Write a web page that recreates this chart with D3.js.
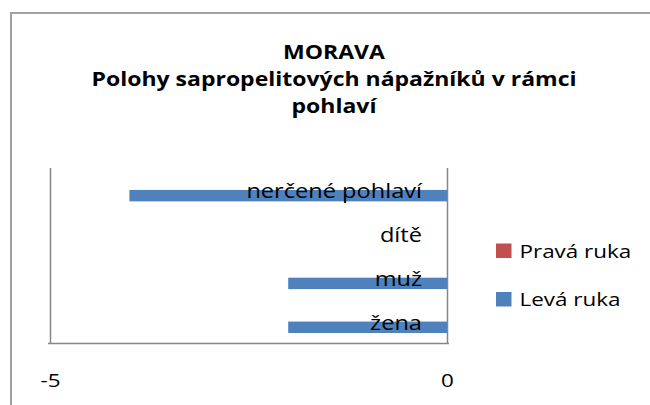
<!DOCTYPE html>
<head>
  <meta charset="utf-8">
  <script src="https://d3js.org/d3.v7.min.js"></script>
  <style>
    body { margin: 0; background: #fff; }
    text { font-family: "Open Sans", sans-serif; fill: #000; }
    text.title { font-size: 19.5px; font-weight: 700; }
    text.catLabel { font-size: 20px; }
    text.legendText { font-size: 19px; }
    .xAxis .tick text { font-size: 19px; fill: #000; }
    .xAxis .tick line { stroke: #868686; stroke-width: 1.5; }
    .xAxis path.domain { display: none; }
  </style>
</head>
<body>
  <script>
    // data
    var categories = ['nerčené pohlaví', 'dítě', 'muž', 'žena'];
    var series = ['Pravá ruka', 'Levá ruka'];
    var pravaRuka = [0, 0, 0, 0];
    var levaRuka = [-4, 0, -2, -2];
    var xTicks = [-5, 0];
    var colours = { 'Pravá ruka': '#C0504D', 'Levá ruka': '#4F81BD' };
    var titleLines = ['MORAVA', 'Polohy sapropelitových nápažníků v rámci', 'pohlaví'];

    var width = 650, height = 405;
    var margin = { top: 168, left: 50, right: 203, bottom: 61.5 };
    // the original picture is stretched sideways, so the text is too
    var sx = 1.18;

    var svg = d3.select('body').append('svg')
      .attr('width', width)
      .attr('height', height);

    svg.append('rect')
      .attr('width', width).attr('height', height)
      .style('fill', '#fff');

    // chart area border (cut by the page edge on the right and bottom)
    svg.append('rect')
      .attr('x', 11).attr('y', 13)
      .attr('width', 700).attr('height', 500)
      .style('fill', 'none')
      .style('stroke', '#a0a0a0')
      .style('stroke-width', 2);

    var x = d3.scaleLinear()
      .domain([-5, 0])
      .range([margin.left, width - margin.right]);

    var y = d3.scaleBand()
      .domain(categories)
      .range([margin.top, height - margin.bottom]);

    var ySub = d3.scaleBand()
      .domain(series)
      .range([0, y.bandwidth()])
      .paddingOuter(0.92);

    var xAxis = d3.axisBottom(x)
      .tickValues(xTicks)
      .tickSize(-(height - margin.bottom - margin.top))
      .tickPadding(44)
      .tickFormat(d => String(d));

    svg.append('g')
      .attr('class', 'xAxis')
      .attr('transform', `translate(0, ${height - margin.bottom})`)
      .call(xAxis)
      .selectAll('.tick text')
      .attr('dy', '0')
      .attr('transform', `scale(${sx},1)`);

    // horizontal value axis line
    svg.append('line')
      .attr('x1', x(-5) - 2).attr('x2', x(0) + 2)
      .attr('y1', height - margin.bottom).attr('y2', height - margin.bottom)
      .style('stroke', '#868686')
      .style('stroke-width', 1.5);

    var rows = [];
    categories.forEach((c, i) => {
      rows.push({ cat: c, s: 'Pravá ruka', value: pravaRuka[i] });
      rows.push({ cat: c, s: 'Levá ruka', value: levaRuka[i] });
    });

    svg.selectAll('rect.bar')
      .data(rows)
      .enter()
      .append('rect')
      .attr('class', 'bar')
      .attr('x', d => x(Math.min(d.value, 0)))
      .attr('width', d => Math.abs(x(d.value) - x(0)))
      .attr('y', d => y(d.cat) + ySub(d.s))
      .attr('height', ySub.bandwidth())
      .style('fill', d => colours[d.s]);

    svg.selectAll('text.catLabel')
      .data(categories)
      .enter()
      .append('text')
      .attr('class', 'catLabel')
      .attr('transform', `scale(${sx},1)`)
      .attr('x', (x(0) - 25) / sx)
      .attr('y', d => y(d) + y.bandwidth() / 2)
      .attr('dy', '0.42em')
      .style('text-anchor', 'end')
      .text(d => d);

    svg.selectAll('text.title')
      .data(titleLines)
      .enter()
      .append('text')
      .attr('class', 'title')
      .attr('transform', `scale(${sx},1)`)
      .attr('x', 334 / sx)
      .attr('y', (d, i) => 59.5 + i * 27)
      .style('text-anchor', 'middle')
      .text(d => d);

    var legend = svg.selectAll('g.legend')
      .data(series)
      .enter()
      .append('g')
      .attr('class', 'legend')
      .attr('transform', (d, i) => `translate(496, ${243.5 + i * 48.5})`);

    legend.append('rect')
      .attr('width', 15.5).attr('height', 14.5)
      .style('fill', d => colours[d]);

    legend.append('text')
      .attr('class', 'legendText')
      .attr('transform', `scale(${sx},1)`)
      .attr('x', 23.5 / sx)
      .attr('y', 14)
      .text(d => d);
  </script>
</body>
